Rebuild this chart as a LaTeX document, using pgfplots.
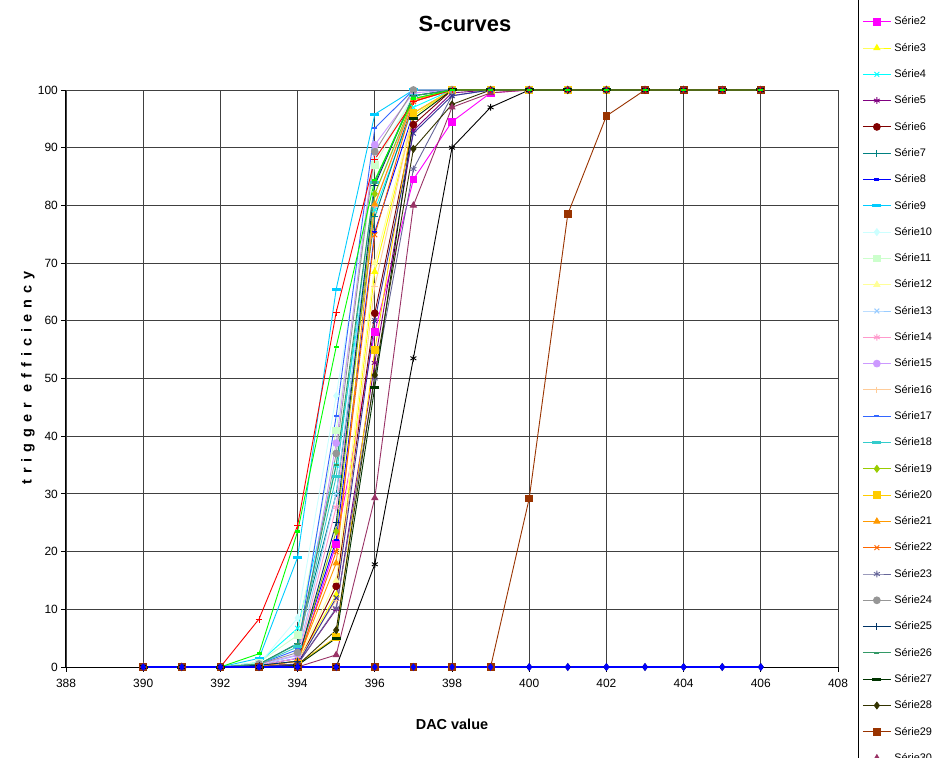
\documentclass[border=0pt]{standalone}
\usepackage{fontspec}
\setmainfont{Liberation Sans}
\usepackage{pgfplots}
\usepackage{pgfplotstable}
\pgfplotsset{compat=1.18}

\definecolor{c1}{HTML}{000080}
\definecolor{c2}{HTML}{FF00FF}
\definecolor{c3}{HTML}{FFFF00}
\definecolor{c4}{HTML}{00FFFF}
\definecolor{c5}{HTML}{800080}
\definecolor{c6}{HTML}{800000}
\definecolor{c7}{HTML}{008080}
\definecolor{c8}{HTML}{0000FF}
\definecolor{c9}{HTML}{00CCFF}
\definecolor{c10}{HTML}{CCFFFF}
\definecolor{c11}{HTML}{CCFFCC}
\definecolor{c12}{HTML}{FFFF99}
\definecolor{c13}{HTML}{99CCFF}
\definecolor{c14}{HTML}{FF99CC}
\definecolor{c15}{HTML}{CC99FF}
\definecolor{c16}{HTML}{FFCC99}
\definecolor{c17}{HTML}{3366FF}
\definecolor{c18}{HTML}{33CCCC}
\definecolor{c19}{HTML}{99CC00}
\definecolor{c20}{HTML}{FFCC00}
\definecolor{c21}{HTML}{FF9900}
\definecolor{c22}{HTML}{FF6600}
\definecolor{c23}{HTML}{666699}
\definecolor{c24}{HTML}{969696}
\definecolor{c25}{HTML}{003366}
\definecolor{c26}{HTML}{339966}
\definecolor{c27}{HTML}{003300}
\definecolor{c28}{HTML}{333300}
\definecolor{c29}{HTML}{993300}
\definecolor{c30}{HTML}{993366}
\definecolor{c31}{HTML}{333399}
\definecolor{c32}{HTML}{000000}
\definecolor{c33}{HTML}{FF0000}
\definecolor{c34}{HTML}{00FF00}
\definecolor{c35}{HTML}{0000FF}

\pgfplotstableread{
x   s1 s2   s3   s4   s5   s6   s7  s8   s9   s10  s11  s12  s13  s14  s15  s16  s17  s18  s19  s20  s21  s22  s23  s24  s25  s26  s27  s28  s29  s30  s31  s32  s33  s34  s35
390 0  0    0    0    0    0    0   0    0    0    0    0    0    0    0    0    0    0    0    0    0    0    0    0    0    0    0    0    0    0    0    0    0    0    0
391 0  0    0    0    0    0    0   0    0    0    0    0    0    0    0    0    0    0    0    0    0    0    0    0    0    0    0    0    0    0    0    0    0    0    0
392 0  0    0    0    0    0    0   0    0    0    0    0    0    0    0    0    0    0    0    0    0    0    0    0    0    0    0    0    0    0    0    0    0    0    0
393 0  0    0.2  0.8  0    0.2  0.5 0.3  1.5  0.5  0.8  0.2  0.3  0.3  0.5  0.2  0.5  0.5  0.2  0    0.2  0.2  0    0.5  0.3  0.5  0    0    0    0    0    0    8.3  2.3  0
394 0  0.5  1    6.7  0.5  0.5  4.1 1.5  19   8.5  5.5  1    2    1.5  2.1  1    3    3.5  1    0.5  1    1    0.5  2.5  1    4    0.3  0.3  0    0    0.5  0    24.5 23.5 0
395 0  21.3 12.5 35   10   14   30  22   65.5 47   41   15   30   27.7 38.8 11.6 43.5 33   23.5 5.2  18   20   10.2 37   25   35   5    6.4  0    2.1  12   0    61.5 55.5 0
396 0  58.1 68.5 79.2 52.7 61.3 78  75.4 95.8 88   87   70   82   80   90.5 66   93.4 84   82   54.9 80.2 74.9 50   89.3 83.5 84   48.5 50.6 0    29.3 60   17.8 88   84.4 0
397 0  84.5 95.5 97   93   94   98  96   100  99   99   96   98   98   99.5 96   100  99   98.5 96   98.3 98   86.3 100  99   99   95   89.8 0    80   92.5 53.5 98   98.5 0
398 0  94.5 100  100  99.5 100  100 100  100  100  100  100  100  100  100  100  100  100  100  100  100  100  99   100  100  100  100  97.5 0    97   99   90   100  100  0
399 0  99.5 100  100  100  100  100 100  100  100  100  100  100  100  100  100  100  100  100  100  100  100  100  100  100  100  100  100  0    99.5 100  97   100  100  0
400 0  100  100  100  100  100  100 100  100  100  100  100  100  100  100  100  100  100  100  100  100  100  100  100  100  100  100  100  29.2 100  100  100  100  100  0
401 0  100  100  100  100  100  100 100  100  100  100  100  100  100  100  100  100  100  100  100  100  100  100  100  100  100  100  100  78.5 100  100  100  100  100  0
402 0  100  100  100  100  100  100 100  100  100  100  100  100  100  100  100  100  100  100  100  100  100  100  100  100  100  100  100  95.5 100  100  100  100  100  0
403 0  100  100  100  100  100  100 100  100  100  100  100  100  100  100  100  100  100  100  100  100  100  100  100  100  100  100  100  100  100  100  100  100  100  0
404 0  100  100  100  100  100  100 100  100  100  100  100  100  100  100  100  100  100  100  100  100  100  100  100  100  100  100  100  100  100  100  100  100  100  0
405 0  100  100  100  100  100  100 100  100  100  100  100  100  100  100  100  100  100  100  100  100  100  100  100  100  100  100  100  100  100  100  100  100  100  0
406 0  100  100  100  100  100  100 100  100  100  100  100  100  100  100  100  100  100  100  100  100  100  100  100  100  100  100  100  100  100  100  100  100  100  0
}\data

\pgfplotsset{
  ser/.style={line width=0.9bp, mark size=3.4bp, mark options={solid, line width=0.9bp}},
  sdash/.style={mark=-, mark size=2.5bp, mark options={solid, line width=2.5bp}},
  ldash/.style={mark=-, mark size=4.5bp, mark options={solid, line width=3bp}},
}

\begin{document}
\begin{tikzpicture}[x=1bp,y=1bp]
\begin{axis}[
  width=772bp, height=577bp, scale only axis,
  xmin=388, xmax=408, ymin=0, ymax=100,
  xtick distance=2, ytick distance=10,
  axis lines=left, axis line style={-, black, line width=1bp},
  grid=major, grid style={line width=0.9bp, color=black!75},
  tick align=outside, major tick length=5bp, tick style={black, line width=0.9bp},
  tick label style={font=\fontsize{12}{14}\selectfont, inner sep=0pt},
  yticklabel style={xshift=-3bp},
  xticklabel style={yshift=-7bp},
  /pgf/number format/assume math mode=true,
  /pgf/number format/1000 sep={},
  clip=false,
  title={S-curves},
  title style={at={(0.5168,1.1049)}, anchor=center, font=\bfseries\fontsize{22}{26}\selectfont, inner sep=0pt},
  xlabel={DAC value},
  xlabel style={at={(0.5,-0.0988)}, anchor=center, font=\bfseries\fontsize{14.5}{17}\selectfont, inner sep=0pt},
  ylabel={\addfontfeature{LetterSpace=42}trigger efficiency},
  ylabel style={at={(-0.0492,0.5009)}, anchor=center, font=\bfseries\fontsize{14.5}{17}\selectfont, inner sep=0pt},
  legend cell align=left,
  legend image code/.code={%
    \path[draw=none, fill=none] (0bp,-5.5bp) rectangle (28bp,5.5bp);
    \draw[mark repeat=2,mark phase=2,#1] plot coordinates {(0bp,0bp) (14bp,0bp) (28bp,0bp)};
  },
  legend style={at={(1.02591,1.1811)}, anchor=north west, draw=black, line width=0.8bp, fill=white,
    inner xsep=4bp, inner ysep=4bp, row sep=15.3bp,
    font=\fontsize{11}{13}\selectfont, nodes={inner sep=0pt},
    /tikz/every odd column/.append style={column sep=3bp}},
]
\addplot[ser, color=c1, mark=diamond*] table[x=x,y=s1]{\data}; \addlegendentry{Série1}
\addplot[ser, color=c2, mark=square*] table[x=x,y=s2]{\data}; \addlegendentry{Série2}
\addplot[ser, color=c3, mark=triangle*] table[x=x,y=s3]{\data}; \addlegendentry{Série3}
\addplot[ser, color=c4, mark=x] table[x=x,y=s4]{\data}; \addlegendentry{Série4}
\addplot[ser, color=c5, mark=asterisk] table[x=x,y=s5]{\data}; \addlegendentry{Série5}
\addplot[ser, color=c6, mark=*] table[x=x,y=s6]{\data}; \addlegendentry{Série6}
\addplot[ser, color=c7, mark=+] table[x=x,y=s7]{\data}; \addlegendentry{Série7}
\addplot[ser, color=c8, sdash] table[x=x,y=s8]{\data}; \addlegendentry{Série8}
\addplot[ser, color=c9, ldash] table[x=x,y=s9]{\data}; \addlegendentry{Série9}
\addplot[ser, color=c10, mark=diamond*] table[x=x,y=s10]{\data}; \addlegendentry{Série10}
\addplot[ser, color=c11, mark=square*] table[x=x,y=s11]{\data}; \addlegendentry{Série11}
\addplot[ser, color=c12, mark=triangle*] table[x=x,y=s12]{\data}; \addlegendentry{Série12}
\addplot[ser, color=c13, mark=x] table[x=x,y=s13]{\data}; \addlegendentry{Série13}
\addplot[ser, color=c14, mark=asterisk] table[x=x,y=s14]{\data}; \addlegendentry{Série14}
\addplot[ser, color=c15, mark=*] table[x=x,y=s15]{\data}; \addlegendentry{Série15}
\addplot[ser, color=c16, mark=+] table[x=x,y=s16]{\data}; \addlegendentry{Série16}
\addplot[ser, color=c17, sdash] table[x=x,y=s17]{\data}; \addlegendentry{Série17}
\addplot[ser, color=c18, ldash] table[x=x,y=s18]{\data}; \addlegendentry{Série18}
\addplot[ser, color=c19, mark=diamond*] table[x=x,y=s19]{\data}; \addlegendentry{Série19}
\addplot[ser, color=c20, mark=square*] table[x=x,y=s20]{\data}; \addlegendentry{Série20}
\addplot[ser, color=c21, mark=triangle*] table[x=x,y=s21]{\data}; \addlegendentry{Série21}
\addplot[ser, color=c22, mark=x] table[x=x,y=s22]{\data}; \addlegendentry{Série22}
\addplot[ser, color=c23, mark=asterisk] table[x=x,y=s23]{\data}; \addlegendentry{Série23}
\addplot[ser, color=c24, mark=*] table[x=x,y=s24]{\data}; \addlegendentry{Série24}
\addplot[ser, color=c25, mark=+] table[x=x,y=s25]{\data}; \addlegendentry{Série25}
\addplot[ser, color=c26, sdash] table[x=x,y=s26]{\data}; \addlegendentry{Série26}
\addplot[ser, color=c27, ldash] table[x=x,y=s27]{\data}; \addlegendentry{Série27}
\addplot[ser, color=c28, mark=diamond*] table[x=x,y=s28]{\data}; \addlegendentry{Série28}
\addplot[ser, color=c29, mark=square*] table[x=x,y=s29]{\data}; \addlegendentry{Série29}
\addplot[ser, color=c30, mark=triangle*] table[x=x,y=s30]{\data}; \addlegendentry{Série30}
\addplot[ser, color=c31, mark=x, forget plot] table[x=x,y=s31]{\data};
\addplot[ser, color=c32, mark=asterisk, forget plot] table[x=x,y=s32]{\data};
\addplot[ser, color=c33, mark=+, forget plot] table[x=x,y=s33]{\data};
\addplot[ser, color=c34, sdash, forget plot] table[x=x,y=s34]{\data};
\addplot[ser, line width=1.6bp, color=c35, mark=diamond*, mark size=3bp, forget plot] table[x=x,y=s35]{\data};
\end{axis}
\pgfresetboundingbox
\useasboundingbox (-66,-91) rectangle (867,667);
\end{tikzpicture}
\end{document}
